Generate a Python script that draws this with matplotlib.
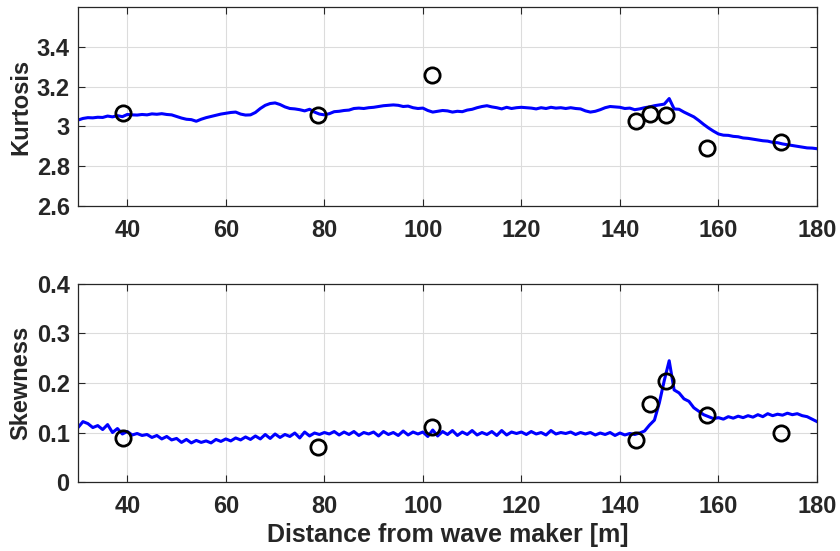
import numpy as np
import matplotlib
matplotlib.use('Agg')
import matplotlib.pyplot as plt
from matplotlib.ticker import FuncFormatter

plt.rcParams['font.family'] = ['Liberation Sans', 'DejaVu Sans']
plt.rcParams['font.weight'] = 'bold'

# simulated profiles, 1 m spacing from 30 to 180 m
dist = np.arange(30, 181)

kurt_sim = [
    3.032, 3.040, 3.044, 3.043, 3.046, 3.045, 3.052, 3.048, 3.054, 3.049,
    3.060, 3.058, 3.057, 3.060, 3.058, 3.063, 3.061, 3.064, 3.060, 3.058,
    3.050, 3.042, 3.036, 3.034, 3.026, 3.036, 3.044, 3.050, 3.056, 3.062,
    3.066, 3.070, 3.072, 3.062, 3.057, 3.058, 3.070, 3.090, 3.106, 3.115,
    3.118, 3.110, 3.098, 3.090, 3.088, 3.084, 3.078, 3.086, 3.072, 3.062,
    3.058, 3.064, 3.074, 3.076, 3.080, 3.082, 3.090, 3.092, 3.090, 3.094,
    3.096, 3.100, 3.104, 3.106, 3.108, 3.106, 3.100, 3.102, 3.094, 3.090,
    3.092, 3.080, 3.072, 3.076, 3.080, 3.078, 3.072, 3.076, 3.074, 3.082,
    3.086, 3.094, 3.100, 3.104, 3.098, 3.094, 3.088, 3.096, 3.090, 3.094,
    3.096, 3.094, 3.092, 3.088, 3.094, 3.090, 3.096, 3.092, 3.094, 3.090,
    3.094, 3.090, 3.088, 3.078, 3.072, 3.076, 3.084, 3.094, 3.100, 3.098,
    3.096, 3.090, 3.092, 3.084, 3.088, 3.094, 3.098, 3.104, 3.108, 3.112,
    3.140, 3.088, 3.086, 3.072, 3.060, 3.048, 3.030, 3.010, 2.992, 2.976,
    2.962, 2.956, 2.955, 2.950, 2.948, 2.942, 2.940, 2.936, 2.932, 2.928,
    2.926, 2.920, 2.918, 2.912, 2.908, 2.904, 2.900, 2.896, 2.892, 2.891,
    2.888,
]

skew_sim = [
    0.110, 0.122, 0.118, 0.110, 0.114, 0.106, 0.116, 0.100, 0.108, 0.097,
    0.102, 0.095, 0.098, 0.094, 0.096, 0.090, 0.094, 0.087, 0.092, 0.085,
    0.088, 0.080, 0.086, 0.079, 0.084, 0.080, 0.083, 0.079, 0.086, 0.082,
    0.087, 0.083, 0.089, 0.085, 0.091, 0.086, 0.093, 0.087, 0.096, 0.088,
    0.097, 0.090, 0.096, 0.092, 0.099, 0.089, 0.101, 0.093, 0.099, 0.096,
    0.100, 0.097, 0.102, 0.095, 0.101, 0.096, 0.102, 0.094, 0.100, 0.097,
    0.101, 0.093, 0.102, 0.096, 0.100, 0.094, 0.103, 0.095, 0.101, 0.097,
    0.101, 0.092, 0.105, 0.093, 0.102, 0.096, 0.104, 0.094, 0.101, 0.096,
    0.104, 0.095, 0.100, 0.096, 0.102, 0.094, 0.104, 0.095, 0.101, 0.098,
    0.101, 0.096, 0.102, 0.097, 0.100, 0.095, 0.104, 0.097, 0.100, 0.098,
    0.101, 0.096, 0.100, 0.097, 0.100, 0.095, 0.099, 0.096, 0.100, 0.094,
    0.099, 0.095, 0.098, 0.096, 0.099, 0.103, 0.115, 0.125, 0.160, 0.205,
    0.245, 0.186, 0.180, 0.168, 0.163, 0.150, 0.143, 0.136, 0.132, 0.128,
    0.130, 0.127, 0.132, 0.129, 0.133, 0.130, 0.134, 0.131, 0.136, 0.132,
    0.138, 0.134, 0.137, 0.135, 0.139, 0.136, 0.138, 0.134, 0.132, 0.127,
    0.122,
]

# measured gauges
gauge_x = [39.1, 78.8, 101.9, 143.2, 146.2, 149.4, 157.6, 172.7]
kurt_meas = [3.068, 3.057, 3.260, 3.028, 3.064, 3.059, 2.891, 2.920]
skew_meas = [0.088, 0.070, 0.112, 0.085, 0.157, 0.205, 0.135, 0.100]

txt = '#262626'
fs = 17
fig = plt.figure(figsize=(8.4, 5.51), dpi=100)
ax1 = fig.add_axes([0.0929, 0.6261, 0.8797, 0.3612])
ax2 = fig.add_axes([0.0929, 0.1252, 0.8797, 0.3594])

fmt = FuncFormatter(lambda v, p: '%g' % round(v, 2))
for ax in (ax1, ax2):
    ax.set_xlim(30, 180)
    ax.set_xticks([40, 60, 80, 100, 120, 140, 160, 180])
    ax.grid(True, color='#dcdcdc', linewidth=0.8)
    ax.set_axisbelow(True)
    ax.tick_params(direction='in', top=True, right=True, length=5,
                   width=0.8, colors=txt, labelsize=fs)
    ax.tick_params(axis='x', pad=9)
    ax.tick_params(axis='y', pad=6)
    ax.yaxis.set_major_formatter(fmt)
    for s in ax.spines.values():
        s.set_color(txt)
        s.set_linewidth(0.9)

ax1.plot(dist, kurt_sim, color='#0000ff', linewidth=2.2)
ax1.plot(gauge_x, kurt_meas, 'o', mfc='none', mec='black', mew=2, ms=11)
ax1.set_ylim(2.6, 3.6)
ax1.set_yticks([2.6, 2.8, 3.0, 3.2, 3.4])
ax1.set_ylabel('Kurtosis', fontsize=fs, color=txt, fontweight='bold', labelpad=3)

ax2.plot(dist, skew_sim, color='#0000ff', linewidth=2.2)
ax2.plot(gauge_x, skew_meas, 'o', mfc='none', mec='black', mew=2, ms=11)
ax2.set_ylim(0, 0.4)
ax2.set_yticks([0, 0.1, 0.2, 0.3, 0.4])
ax2.set_ylabel('Skewness', fontsize=fs, color=txt, fontweight='bold', labelpad=3)
ax2.set_xlabel('Distance from wave maker [m]', fontsize=18, color=txt,
               fontweight='bold', labelpad=4)

fig.savefig('out.png', dpi=100)
